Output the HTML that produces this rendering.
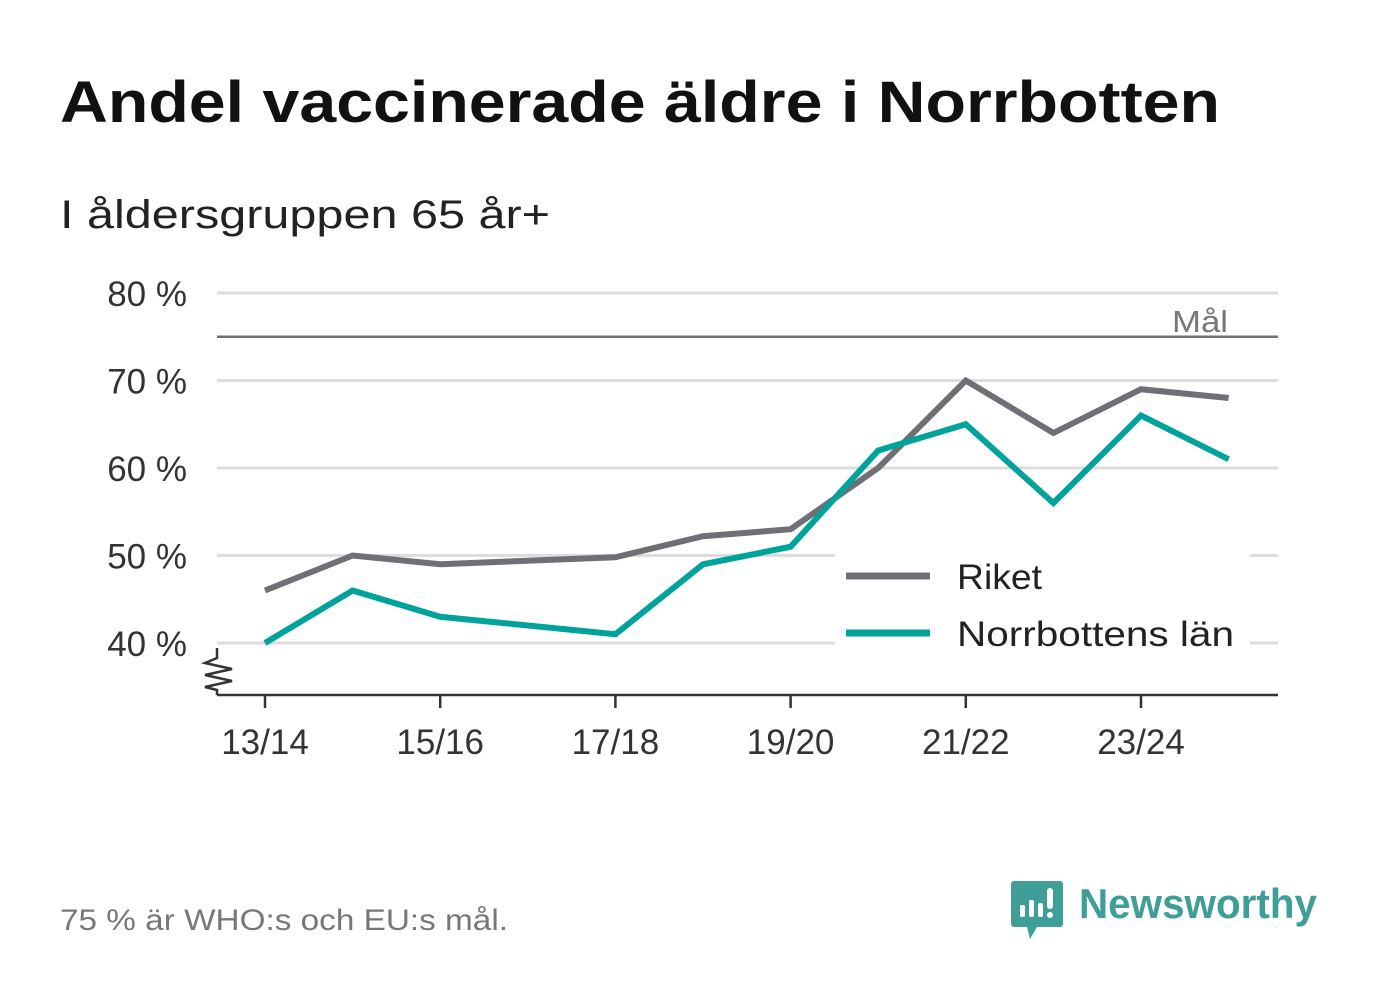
<!DOCTYPE html>
<html><head><meta charset="utf-8"><style>
body{margin:0;background:#fff;width:1382px;height:999px;overflow:hidden;font-family:"Liberation Sans","DejaVu Sans",sans-serif}
</style></head><body>
<svg width="1382" height="999" viewBox="0 0 1382 999" xmlns="http://www.w3.org/2000/svg">
<text x="60" y="122" font-size="58" font-weight="bold" fill="#111" textLength="1160" lengthAdjust="spacingAndGlyphs">Andel vaccinerade äldre i Norrbotten</text>
<text x="60" y="228" font-size="40" fill="#222" textLength="490" lengthAdjust="spacingAndGlyphs">I åldersgruppen 65 år+</text>
<g id="grid"></g>
<g id="lines"></g>
<g id="legend">
<rect x="835" y="553" width="415" height="95" fill="#fff"/>
<line x1="846" y1="576" x2="930" y2="576" stroke="#706f75" stroke-width="7"/>
<text x="957" y="589" font-size="35" fill="#222" textLength="85" lengthAdjust="spacingAndGlyphs">Riket</text>
<line x1="846" y1="633" x2="930" y2="633" stroke="#00a39b" stroke-width="7"/>
<text x="957" y="646" font-size="35" fill="#222" textLength="277" lengthAdjust="spacingAndGlyphs">Norrbottens län</text>
</g>
<text x="60" y="930" font-size="30" fill="#777" textLength="448" lengthAdjust="spacingAndGlyphs">75 % är WHO:s och EU:s mål.</text>
<g>
<path d="M1014 881 h46 a3 3 0 0 1 3 3 v40 a3 3 0 0 1 -3 3 h-23 l-7 12 l-3 -12 h-13 a3 3 0 0 1 -3 -3 v-40 a3 3 0 0 1 3 -3z" fill="#3f9e97"/>
<rect x="1020" y="905" width="5" height="12" rx="2" fill="#fff"/>
<rect x="1029" y="900" width="5" height="17" rx="2" fill="#fff"/>
<rect x="1038" y="903" width="5" height="14" rx="2" fill="#fff"/>
<rect x="1047" y="888" width="6" height="21" rx="3" fill="#fff"/>
<circle cx="1050" cy="915" r="3" fill="#fff"/>
<text x="1079" y="918" font-size="42" font-weight="bold" fill="#3f9e97" textLength="238" lengthAdjust="spacingAndGlyphs">Newsworthy</text>
</g>
</svg>
<script>
const seasons=["13/14","14/15","15/16","16/17","17/18","18/19","19/20","20/21","21/22","22/23","23/24","24/25"];
const riket=[46,50,49,null,49.8,52.2,53,60,70,64,69,68];
const norrbotten=[40,46,43,null,41,49,51,62,65,56,66,61];
const yTicks=[40,50,60,70,80];
const xTickLabels=["13/14","15/16","17/18","19/20","21/22","23/24"];
const goal=75;
const NS="http://www.w3.org/2000/svg";
const x=i=>265+i*87.6;
const y=v=>643-(v-40)*8.75;
const grid=document.getElementById('grid');
function mk(tag,attrs,parent){const e=document.createElementNS(NS,tag);for(const k in attrs)e.setAttribute(k,attrs[k]);parent.appendChild(e);return e;}
yTicks.forEach(v=>{
 const l=mk('line',{x1:217,x2:1278,y1:y(v),y2:y(v),stroke:'#ddd','stroke-width':3},grid);
 
 
 const t=mk('text',{x:187,y:y(v)+13,'text-anchor':'end','font-size':35,fill:'#333'},grid);
 t.textContent=v+' %';
 
 
});
const g=mk('line',{x1:217,x2:1278,y1:y(goal),y2:y(goal),stroke:'#706f75','stroke-width':2.5},grid);


const gt=mk('text',{x:1228,y:y(goal)-5,'text-anchor':'end','font-size':31,fill:'#777',textLength:56,lengthAdjust:'spacingAndGlyphs'},grid);
gt.textContent='Mål';


const ax=mk('line',{x1:217,x2:1278,y1:695,y2:695,stroke:'#333','stroke-width':2.5},grid);


const br=mk('path',{d:'M217 648 L217 658 L205 663 L232 669 L205 675 L232 681 L205 687 L217 690 L217 695',fill:'none',stroke:'#333','stroke-width':2.5},grid);


xTickLabels.forEach(s=>{
 const i=seasons.indexOf(s);
 const tk=mk('line',{x1:x(i),x2:x(i),y1:695,y2:708,stroke:'#333','stroke-width':2.5},grid);
 
 
 const t=mk('text',{x:x(i),y:754,'text-anchor':'middle','font-size':35,fill:'#333'},grid);
 t.textContent=s;
 
 
});
const lines=document.getElementById('lines');
function draw(data,color,name){
 const pts=[];data.forEach((v,i)=>{if(v!=null)pts.push(x(i)+','+y(v));});
 const p=mk('polyline',{points:pts.join(' '),fill:'none',stroke:color,'stroke-width':6,'stroke-linejoin':'miter'},lines);
 
 
}
draw(riket,'#706f75','line-riket');
draw(norrbotten,'#00a39b','line-norrbotten');
</script>
</body></html>
